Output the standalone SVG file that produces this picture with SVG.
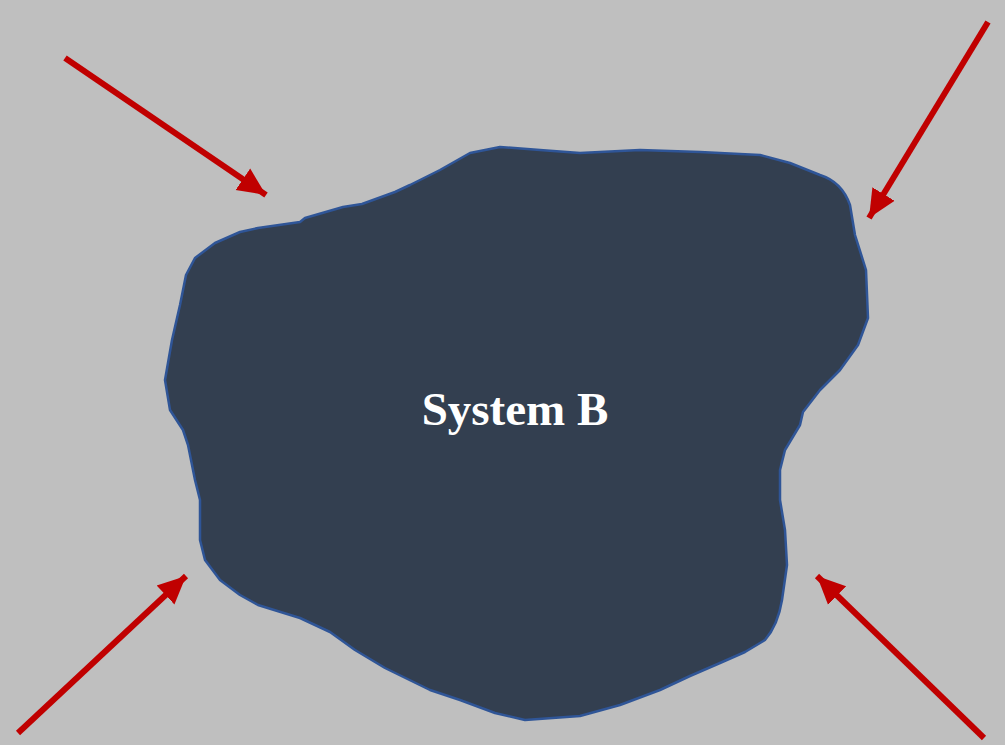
<svg xmlns="http://www.w3.org/2000/svg" width="1005" height="745" viewBox="0 0 1005 745">
<style>
.arrow{stroke:#C00000;stroke-width:6;fill:none}
.blob{fill:#333F50;stroke:#2F5597;stroke-width:2.5;stroke-linejoin:round}
.label{font-family:"Liberation Serif","Times New Roman",serif;font-weight:bold;font-size:47px;fill:#FFFFFF}
</style>
<defs>
<marker id="ah" markerUnits="userSpaceOnUse" markerWidth="32" markerHeight="30" refX="28" refY="15" orient="auto">
<path d="M0,2 L28,15 L0,28 Z" fill="#C00000"/>
</marker>
</defs>
<rect width="1005" height="745" fill="#BFBFBF"/>
<g id="system-b">
<path class="blob" d="M258,228 L300,222 L305,218 L343,207 L362,204 L395,192 L410,185 L440,170 L470,153 L500,147 L540,150 L580,153 L640,150 L700,152 L760,155 L790,163 L820,175 Q842,182 850,205 L855,235 L866,270 L868,318 L858,345 L840,370 L820,390 L803,412 L800,425 L785,450 L780,470 L780,500 L785,530 L787,565 L782,600 Q778,625 765,640 L745,652 L720,663 L690,676 L660,690 L620,705 L580,716 L525,720 L495,713 L460,700 L430,690 L385,668 L355,650 L330,632 L300,618 L258,605 L240,595 L220,580 L205,560 L200,540 L200,500 L195,480 L188,445 L183,430 L170,410 L165,380 L172,340 L180,305 L186,275 L195,258 L215,243 L240,232 Z"/>
<text class="label" x="515" y="425" text-anchor="middle">System B</text>
</g>
<g id="connectors">
<line class="arrow" x1="65" y1="58" x2="266" y2="195" marker-end="url(#ah)"/>
<line class="arrow" x1="988" y1="22" x2="869" y2="218" marker-end="url(#ah)"/>
<line class="arrow" x1="18" y1="733" x2="186" y2="576" marker-end="url(#ah)"/>
<line class="arrow" x1="984" y1="738" x2="817" y2="576" marker-end="url(#ah)"/>
</g>
</svg>
